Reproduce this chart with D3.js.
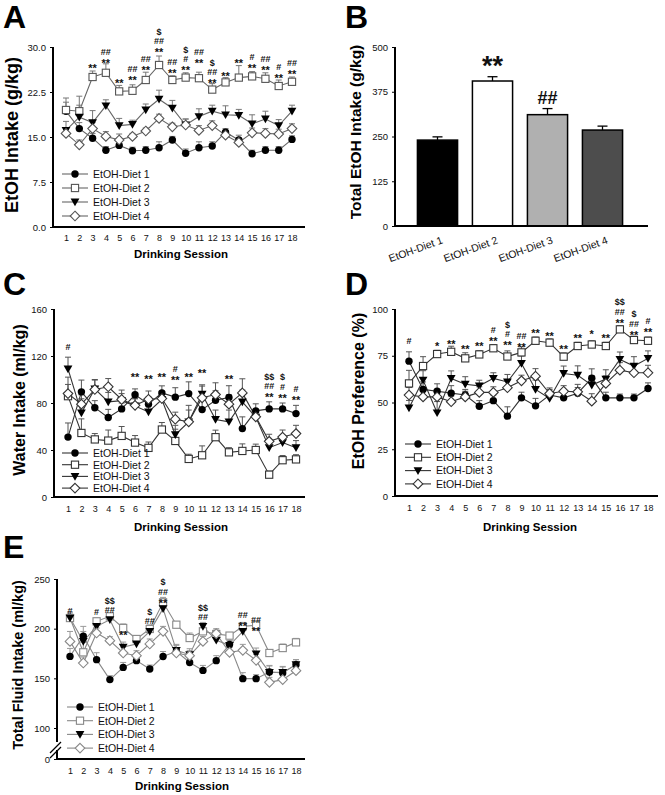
<!DOCTYPE html>
<html><head><meta charset="utf-8">
<script src="https://cdn.jsdelivr.net/npm/d3@7"></script>
<style>body{margin:0;background:#fff}svg{display:block}</style>
</head><body><svg id="c" width="665" height="795"></svg>
<script>
// ---------------- DATA ----------------
const sessions = d3.range(1, 19);
const seriesNames = ["EtOH-Diet 1", "EtOH-Diet 2", "EtOH-Diet 3", "EtOH-Diet 4"];

// Panel A: EtOH intake (g/kg)
const aTicks = [0, 7.5, 15, 22.5, 30];
const aD1 = [19.3,16.4,14.8,12.8,13.6,12.7,12.8,13.2,14.5,12.3,13.2,13.5,15.8,14.5,12.2,12.8,12.8,14.6];
const aD2 = [19.5,19.3,25.0,25.7,22.6,22.7,24.5,27.0,24.5,24.9,24.8,22.9,24.1,24.9,25.1,24.7,23.5,24.2];
const aD3 = [16.1,18.3,17.4,20.2,16.9,17.1,19.5,21.3,19.8,17.0,18.4,19.3,18.7,18.6,17.2,18.0,16.9,19.3];
const aD4 = [15.6,13.7,16.4,15.1,14.5,15.1,16.0,18.1,16.7,17.0,16.1,16.9,15.3,14.1,15.7,15.6,15.5,16.4];
const aE1 = [1.5,1.0,0.8,0.6,0.7,0.6,0.6,1.0,0.6,0.7,1.0,0.7,0.6,0.8,0.6,0.6,0.6,0.6];
const aE2 = [2.0,2.5,1.0,1.5,1.0,1.0,1.3,1.5,0.7,0.8,1.0,1.0,0.8,2.0,0.8,1.0,1.0,0.8];
const aE3 = [1.5,2.0,2.0,1.0,1.2,0.7,1.0,1.5,1.3,1.0,1.3,1.0,1.5,1.0,1.5,1.3,1.0,1.0];
const aE4 = [0.8,0.8,1.0,0.8,1.0,0.5,0.5,0.7,0.6,1.0,0.8,0.8,0.7,0.6,0.8,0.8,0.8,0.8];
const aMarks = [
  [3,26.9,["**"]],[4,27.7,["**","##"]],[5,24.3,["**"]],[6,24.8,["**","##"]],
  [7,26.5,["**","##"]],[8,29.5,["**","##","$"]],[9,26.0,["**","##"]],[10,26.5,["**","#","$"]],
  [11,27.7,["**","##"]],[12,24.3,["**","##","$"]],[13,25.5,["**"]],[14,27.6,["**"]],
  [15,26.8,["**","#"]],[16,26.5,["**","##"]],[17,25.2,["**","#"]],[18,25.9,["**","##"]]
];

// Panel B: total EtOH intake (g/kg)
const bTicks = [0, 125, 250, 375, 500];
const bVals = [240, 405, 311, 268];
const bErr = [9, 12, 17, 11];
const bMarks = ["", "**", "##", ""];

// Panel C: water intake (ml/kg)
const cTicks = [0, 40, 80, 120, 160];
const cD1 = [51,89.5,76,67.6,75,87,79,88.6,85,88,74.4,82.4,84.7,58.2,73.3,75,75,71];
const cD2 = [85.8,54.5,49,48,52,46.3,41.8,57.4,47.7,32.4,35.5,50.9,38,39.2,40,19,31.3,32];
const cD3 = [109,71.6,92,81,82,77.5,72.4,83,53,64,87.5,66,64,81,68,42,46.3,42];
const cD4 = [88,79,91.5,93.8,83,78,83.2,83.8,66.2,64,84.4,87.2,79,88.6,68.2,47.4,51,54];
const cE1 = [12,10,6,7,5,5,6,6,8,10,8,8,10,10,6,6,5,7];
const cE2 = [10,12,5,9,8,6,5,6,10,4,8,6,4,6,5,3,4,4];
const cE3 = [10,12,8,8,6,6,6,5,8,10,8,8,10,10,6,4,6,6];
const cE4 = [14,8,8,7,8,6,7,6,6,14,10,10,8,12,6,6,6,7];
const cMarks = [
  [1,128.5,["#"]],[6,103.8,["**"]],[7,102.4,["**"]],[8,103.8,["**"]],[9,101,["**","#"]],
  [10,103.8,["**"]],[11,107,["**"]],[13,102.4,["**"]],
  [16,86.8,["**","##","$$"]],[17,86,["**","#","$"]],[18,84.5,["**","#"]]
];

// Panel D: EtOH preference (%)
const dTicks = [0, 25, 50, 75, 100];
const dD1 = [72.1,57,56,55,54,48,51,42.7,52.5,48.2,54,52.5,55,63,52.5,52.5,52.5,57.5];
const dD2 = [60.2,69.5,75.9,77.1,73.6,75.7,79,74.6,76.8,83,82,74.5,80.2,81,80.2,89.1,83.4,83];
const dD3 = [47.1,62,44.5,62.9,59.8,58.9,62.9,61,70.9,57,52.1,65.5,64.6,59.3,62.5,73,69.5,73.6];
const dD4 = [54,53,53,50.4,53,55.4,55.4,57.9,61.6,64.1,54.8,56,55.7,50.7,60.2,67.3,65.9,65.9];
const dE1 = [5,4,4,4,3,3,3,5,3,4,3,3,3,5,3,2,2,3];
const dE2 = [7,5,2,3,3,2,2,3,3,2,2,2,2,2,2,2,2,2];
const dE3 = [4,5,6,4,4,3,3,4,4,5,4,4,5,5,5,4,5,4];
const dE4 = [4,4,4,3,3,3,3,4,3,4,3,3,4,4,4,4,4,4];
const dMarks = [
  [1,82.9,["#"]],[3,81.5,["*"]],[4,82.3,["**"]],[5,79.5,["**"]],[6,81.3,["**"]],
  [7,84,["**","#"]],[8,81.6,["**","#","$"]],[9,80.7,["**","##"]],[10,88.2,["**"]],
  [11,86.6,["**"]],[12,79.9,["**"]],[13,85.6,["**"]],[14,87.5,["*"]],[15,85.6,["**"]],
  [16,93.6,["**","##","$$"]],[17,87.3,["**","##","$"]],[18,88.8,["**","#"]]
];

// Panel E: total fluid intake (ml/kg)
const eTicks = [0, 100, 150, 200, 250];
const eD1 = [172.1,192.3,168.8,148.7,161,167.8,159.4,172,177.2,166,158,167.8,184,149.7,149.7,156.4,155.4,163.8];
const eD2 = [210.7,176.2,207.4,212.4,200.7,189.6,199.7,226.5,204,190.6,197.3,194.6,193,202.3,203.4,175.5,180.5,186.2];
const eD3 = [210.7,187.2,202.3,209,181.5,184.6,197.3,220.1,178.2,173.8,202.3,188.3,183.2,197.3,174.5,156,156,163.8];
const eD4 = [187.2,165.4,195.6,187.9,175.5,172.8,184.6,197.3,175.5,172.8,187.2,195,176.2,178.2,168.1,146,148.7,157.7];
const eE1 = [8,10,7,4,5,4,4,5,6,5,5,5,4,6,4,6,6,5];
const eE2 = [5,10,3,3,4,3,4,5,3,5,4,4,3,4,4,3,4,4];
const eE3 = [6,10,6,5,5,4,4,5,6,6,4,5,5,5,6,7,6,5];
const eE4 = [10,6,5,4,6,5,5,5,5,5,5,5,5,6,6,5,5,5];
const eMarks = [
  [1,218,["#"]],[3,217,["#"]],[4,219,["##","$$"]],[5,196,["**"]],[7,208,["##","$"]],
  [8,228,["**","##","$"]],[11,212,["##","$$"]],[14,205,["**","##"]],[15,200,["**","##"]]
];

// ---------------- DRAWING ----------------
const FONT = '"Liberation Sans", Arial, Helvetica, sans-serif';
const svg = d3.select("#c");

function sym(g, type, x, y, st) {
  if (type === 0) g.append("circle").attr("cx", x).attr("cy", y).attr("r", 3.7).attr("fill", "#000");
  else if (type === 1) g.append("rect").attr("x", x - 3.6).attr("y", y - 3.6).attr("width", 7.2).attr("height", 7.2)
    .attr("fill", "#fff").attr("stroke", st.open).attr("stroke-width", 1.1);
  else if (type === 2) g.append("path").attr("d", `M${x-4.4},${y-3.4}L${x+4.4},${y-3.4}L${x},${y+4.3}Z`).attr("fill", "#000");
  else g.append("path").attr("d", `M${x},${y-4.8}L${x+4.8},${y}L${x},${y+4.8}L${x-4.8},${y}Z`)
    .attr("fill", "#fff").attr("stroke", st.open).attr("stroke-width", 1.1);
}

function letter(t, x, y) {
  svg.append("text").attr("x", x).attr("y", y).text(t)
    .attr("font-family", FONT).attr("font-weight", "bold").attr("font-size", 32).attr("fill", "#000");
}

function yTitle(t, x, y, fs) {
  svg.append("text").attr("transform", `translate(${x},${y}) rotate(-90)`).attr("text-anchor", "middle")
    .text(t).attr("font-family", FONT).attr("font-weight", "bold").attr("font-size", fs).attr("fill", "#000");
}

function styleAxisText(sel, fs) {
  sel.selectAll("text").attr("font-family", FONT).attr("font-size", fs).attr("fill", "#111");
}

function linePanel(o) {
  const g = svg.append("g");
  const x = d3.scaleLinear().domain([1, 18]).range(o.xr);
  const y = o.y;
  const st = o.style;
  const top = o.yTicks[o.yTicks.length - 1];

  // y axis ticks & labels
  const yg = g.append("g").attr("transform", `translate(${o.ax},0)`)
    .call(d3.axisLeft(y).tickValues(o.yTicks).tickFormat(o.fmt).tickSize(3).tickPadding(4));
  yg.select(".domain").remove();
  yg.selectAll(".tick line").attr("stroke", "#000");
  styleAxisText(yg, 9.5);

  // x axis labels
  const xg = g.append("g").attr("transform", `translate(0,${y(0)})`)
    .call(d3.axisBottom(x).tickValues(sessions).tickFormat(d3.format("d")).tickSize(0).tickPadding(o.xpad));
  xg.select(".domain").remove();
  styleAxisText(xg, 9);

  // axis lines
  if (o.brk) {
    g.append("line").attr("x1", o.ax).attr("x2", o.ax).attr("y1", y(0) + 1).attr("y2", y(0) - 9).attr("stroke", "#000").attr("stroke-width", 2);
    g.append("line").attr("x1", o.ax).attr("x2", o.ax).attr("y1", y(0) - 17).attr("y2", y(top)).attr("stroke", "#000").attr("stroke-width", 2);
    g.append("line").attr("x1", o.ax - 7).attr("x2", o.ax + 4).attr("y1", y(0) - 6).attr("y2", y(0) - 17).attr("stroke", "#000").attr("stroke-width", 1.2);
    g.append("line").attr("x1", o.ax - 7).attr("x2", o.ax + 4).attr("y1", y(0) - 1).attr("y2", y(0) - 12).attr("stroke", "#000").attr("stroke-width", 1.2);
  } else {
    g.append("line").attr("x1", o.ax).attr("x2", o.ax).attr("y1", y(0) + 1).attr("y2", y(top)).attr("stroke", "#000").attr("stroke-width", 2);
  }
  g.append("line").attr("x1", o.ax - 1).attr("x2", o.axEnd).attr("y1", y(0)).attr("y2", y(0)).attr("stroke", "#000").attr("stroke-width", 2);

  // series lines
  const line = d3.line().x((d, i) => x(sessions[i])).y(d => y(d));
  o.series.forEach(s => g.append("path").attr("d", line(s)).attr("fill", "none").attr("stroke", st.line).attr("stroke-width", 1.1));
  // error bars
  o.series.forEach((s, k) => s.forEach((v, i) => {
    const xx = x(sessions[i]), y1 = y(v), y2 = y(v + o.errs[k][i]);
    g.append("line").attr("x1", xx).attr("x2", xx).attr("y1", y1).attr("y2", y2).attr("stroke", st.err).attr("stroke-width", 1);
    g.append("line").attr("x1", xx - 3).attr("x2", xx + 3).attr("y1", y2).attr("y2", y2).attr("stroke", st.err).attr("stroke-width", 1);
  }));
  // symbols
  o.series.forEach((s, k) => s.forEach((v, i) => sym(g, k, x(sessions[i]), y(v), st)));

  // significance marks
  o.marks.forEach(([s, v, lines]) => {
    lines.forEach((t, j) => {
      const cy = y(v) - j * 9.5;
      const isStar = t.indexOf("*") >= 0;
      g.append("text").attr("x", x(s)).attr("y", cy + (isStar ? 6 : 3.5)).attr("text-anchor", "middle")
        .text(t).attr("font-family", FONT).attr("font-weight", "bold").attr("font-size", isStar ? 11 : 9).attr("fill", "#111");
    });
  });

  // legend
  seriesNames.forEach((n, k) => {
    const ly = o.leg[1] + k * o.leg[2];
    g.append("line").attr("x1", o.leg[0]).attr("x2", o.leg[0] + 26).attr("y1", ly).attr("y2", ly).attr("stroke", st.line).attr("stroke-width", 1.1);
    sym(g, k, o.leg[0] + 13, ly, st);
    g.append("text").attr("x", o.leg[0] + 31).attr("y", ly + 3.8).text(n)
      .attr("font-family", FONT).attr("font-size", 10.5).attr("fill", "#111");
  });

  // x title
  g.append("text").attr("x", o.xt[0]).attr("y", o.xt[1]).attr("text-anchor", "middle").text("Drinking Session")
    .attr("font-family", FONT).attr("font-weight", "bold").attr("font-size", 11.5).attr("fill", "#000");
}

const stDark = { line: "#333", open: "#333", err: "#555" };
const stA = { line: "#666", open: "#555", err: "#777" };
const stE = { line: "#888", open: "#888", err: "#999" };

// Panel A
letter("A", 3, 28);
yTitle("EtOH Intake (g/kg)", 18, 135, 18);
linePanel({
  xr: [66, 292], ax: 53, axEnd: 305, y: d3.scaleLinear().domain([0, 30]).range([227, 47]),
  yTicks: aTicks, fmt: d3.format(".1f"), xpad: 8,
  series: [aD1, aD2, aD3, aD4], errs: [aE1, aE2, aE3, aE4], marks: aMarks,
  leg: [62, 174, 14], xt: [181, 258], style: stA
});

// Panel B
letter("B", 345, 28);
yTitle("Total EtOH Intake (g/kg)", 361, 132, 15.5);
(function () {
  const g = svg.append("g");
  const y = d3.scaleLinear().domain([0, 500]).range([226, 47]);
  const x = d3.scaleBand().domain(seriesNames).range([410, 630]);
  const fills = ["#000", "#fff", "#b0b0b0", "#4d4d4d"];
  const yg = g.append("g").attr("transform", "translate(395,0)")
    .call(d3.axisLeft(y).tickValues(bTicks).tickFormat(d3.format("d")).tickSize(3).tickPadding(4));
  yg.select(".domain").remove();
  styleAxisText(yg, 9.5);
  seriesNames.forEach((c, i) => {
    const bw = x.bandwidth() * 0.73, bx = x(c) + x.bandwidth() * 0.135, cx = x(c) + x.bandwidth() / 2;
    const et = y(bVals[i] + bErr[i]);
    g.append("line").attr("x1", cx).attr("x2", cx).attr("y1", y(bVals[i])).attr("y2", et).attr("stroke", "#000").attr("stroke-width", 1.3);
    g.append("line").attr("x1", cx - 5).attr("x2", cx + 5).attr("y1", et).attr("y2", et).attr("stroke", "#000").attr("stroke-width", 1.3);
    g.append("rect").attr("x", bx).attr("y", y(bVals[i])).attr("width", bw).attr("height", y(0) - y(bVals[i]))
      .attr("fill", fills[i]).attr("stroke", "#000").attr("stroke-width", 1.5);
    if (bMarks[i]) {
      const star = bMarks[i].indexOf("*") >= 0;
      g.append("text").attr("x", cx).attr("y", star ? et - 2 : et - 5).attr("text-anchor", "middle").text(bMarks[i])
        .attr("font-family", FONT).attr("font-weight", "bold").attr("font-size", star ? 27 : 18).attr("fill", "#111");
    }
    g.append("text").attr("transform", `translate(${cx + 6},${243}) rotate(-20)`).attr("text-anchor", "end").text(c)
      .attr("font-family", FONT).attr("font-size", 10.5).attr("fill", "#111");
  });
  g.append("line").attr("x1", 395).attr("x2", 395).attr("y1", 227).attr("y2", 47).attr("stroke", "#000").attr("stroke-width", 2);
  g.append("line").attr("x1", 394).attr("x2", 648).attr("y1", 226).attr("y2", 226).attr("stroke", "#000").attr("stroke-width", 2);
})();

// Panel C
letter("C", 3, 295);
yTitle("Water Intake (ml/kg)", 25, 400, 16);
linePanel({
  xr: [68, 296], ax: 54, axEnd: 305, y: d3.scaleLinear().domain([0, 160]).range([497, 309]),
  yTicks: cTicks, fmt: d3.format("d"), xpad: 9,
  series: [cD1, cD2, cD3, cD4], errs: [cE1, cE2, cE3, cE4], marks: cMarks,
  leg: [62, 453, 11.7], xt: [181, 531], style: stDark
});

// Panel D
letter("D", 345, 295);
yTitle("EtOH Preference (%)", 364, 391, 16);
linePanel({
  xr: [409, 648], ax: 395, axEnd: 658, y: d3.scaleLinear().domain([0, 100]).range([496, 309]),
  yTicks: dTicks, fmt: d3.format("d"), xpad: 9,
  series: [dD1, dD2, dD3, dD4], errs: [dE1, dE2, dE3, dE4], marks: dMarks,
  leg: [405, 444, 13.3], xt: [530, 531], style: stDark
});

// Panel E
letter("E", 3, 558);
yTitle("Total Fluid Intake (ml/kg)", 23, 665, 14.5);
linePanel({
  xr: [70, 296], ax: 57, axEnd: 305, y: d3.scaleLinear().domain([0, 100, 250]).range([759, 728, 579]),
  yTicks: eTicks, fmt: d3.format("d"), xpad: 9, brk: true,
  series: [eD1, eD2, eD3, eD4], errs: [eE1, eE2, eE3, eE4], marks: eMarks,
  leg: [67, 707, 13.7], xt: [182, 790], style: stE
});
</script></body></html>
